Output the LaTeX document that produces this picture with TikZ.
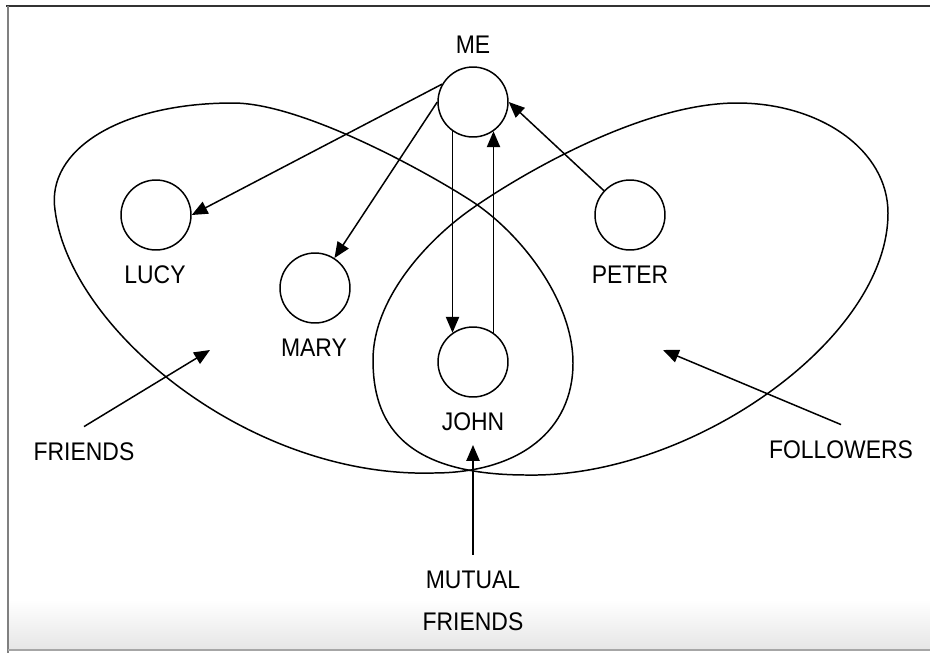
\documentclass[tikz,border=0pt]{standalone}
\usepackage{fontspec}
\setmainfont{Liberation Sans}[FakeStretch=0.9]
\usetikzlibrary{arrows.meta}

\begin{document}
\begin{tikzpicture}[
    x=0.02cm, y=-0.02cm, % pixel grid, y downwards
    line width=0.85pt,
    every node/.style={
        font=\fontsize{14.5}{17}\selectfont
    },
    person/.style={circle, draw, minimum size=1.4cm, inner sep=0pt},
    setname/.style={align=center, outer sep=6pt},
    link/.style={-{Triangle[length=9pt,width=7.5pt]}}
]
  % frame
  \useasboundingbox (0,0) rectangle (930,653);
  \shade[top color=white, bottom color=black!10] (8,600) rectangle (930,650);
  \draw[black!80, line width=1.4pt] (6,6) -- (930,6);
  \draw[black!50, line width=1.4pt] (8,6) -- (8,653);
  \draw[black!35] (8,650) -- (930,650);

  % friends set
  \draw (233,103) .. controls (120,103) and (46,150) .. (55,210)
    .. controls (70,330) and (250,478) .. (433,473)
    .. controls (520,473) and (573,430) .. (573,363)
    .. controls (573,300) and (520,232) .. (470,200)
    .. controls (420,168) and (300,103) .. cycle;
  % followers set
  \draw (737,103) .. controls (820,103) and (888,150) .. (888,213)
    .. controls (888,340) and (690,478) .. (527,475)
    .. controls (400,475) and (373,420) .. (373,360)
    .. controls (373,300) and (425,242) .. (470,210)
    .. controls (515,178) and (640,103) .. cycle;

  % people
  \node[person] (me) at (473,102) {};
  \node (meName) at (473,45) {ME};
  \node[person] (lucy) at (156,215) {};
  \node (lucyName) at (155,275) {LUCY};
  \node[person] (mary) at (315,288) {};
  \node (maryName) at (314,348) {MARY};
  \node[person] (john) at (473,362) {};
  \node (johnName) at (473,422) {JOHN};
  \node[person] (peter) at (630,215) {};
  \node (peterName) at (630,275) {PETER};

  \node[setname] (friends) at (84,452) {FRIENDS};
  \node[setname] (followers) at (841,450) {FOLLOWERS};
  \node[setname] (mutual) at (473,601) {MUTUAL\\[7pt]FRIENDS};

  \coordinate (friendsPt) at (210,350);
  \coordinate (followersPt) at (663,350);
  \coordinate (mutualPt) at (473,445);

  % arrows
  \draw[link] (me.150) -- (lucy.east);
  \draw[link] (me.west) -- (mary.57);
  \draw[link] (me.235) -- (john.125);
  \draw[link] (john.55) -- (me.305);
  \draw[link] (peter.137) -- (me.east);
  \draw[link] (friends.north) -- (friendsPt);
  \draw[link] (followers.north) -- (followersPt);
  \draw[link] (mutual.north) -- (mutualPt);
\end{tikzpicture}
\end{document}
